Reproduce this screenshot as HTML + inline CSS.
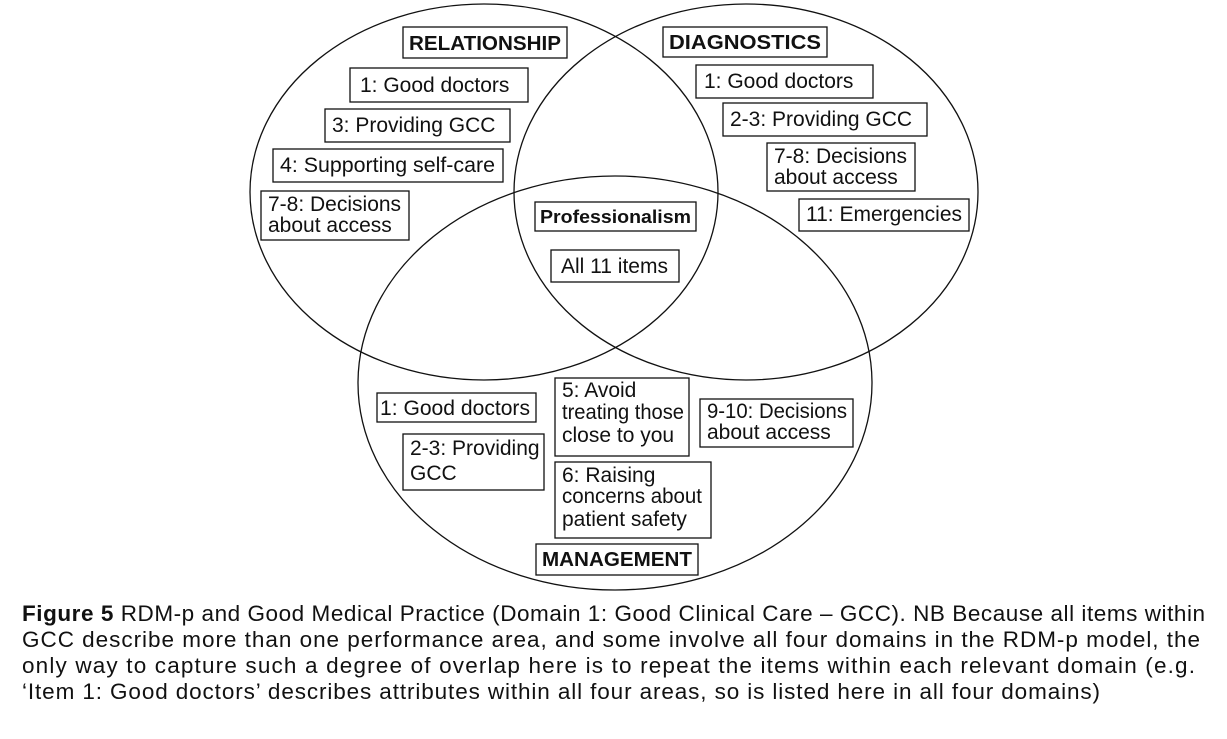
<!DOCTYPE html>
<html><head><meta charset="utf-8"><style>
html,body{margin:0;padding:0;background:#fff;}
svg{display:block;}
text{font-family:"Liberation Sans",Arial,sans-serif;fill:#111;}
.t{font-size:21px;}
.b{font-size:20px;font-weight:bold;}
.c{font-size:22.5px;}
rect{fill:#fff;stroke:#111;stroke-width:1.3;}
ellipse{fill:none;stroke:#111;stroke-width:1.3;}
</style></head><body>
<svg width="1227" height="739" viewBox="0 0 1227 739">
<ellipse cx="484" cy="192" rx="234" ry="188"/>
<ellipse cx="746" cy="192" rx="232" ry="188"/>
<ellipse cx="615" cy="383" rx="257" ry="207"/>

<rect x="403" y="27" width="164" height="31"/><text class="b" x="409" y="50" textLength="152" lengthAdjust="spacingAndGlyphs">RELATIONSHIP</text>
<rect x="663" y="27" width="164" height="30"/><text class="b" x="669" y="49" textLength="152" lengthAdjust="spacingAndGlyphs">DIAGNOSTICS</text>

<rect x="350" y="68" width="178" height="34"/><text class="t" x="360" y="92">1: Good doctors</text>
<rect x="325" y="109" width="185" height="33"/><text class="t" x="332" y="132">3: Providing GCC</text>
<rect x="273" y="149" width="230" height="33"/><text class="t" x="280" y="172" textLength="215" lengthAdjust="spacingAndGlyphs">4: Supporting self-care</text>
<rect x="261" y="191" width="148" height="49"/><text class="t" x="268" y="211">7-8: Decisions</text><text class="t" x="268" y="232">about access</text>

<rect x="696" y="65" width="177" height="33"/><text class="t" x="704" y="88">1: Good doctors</text>
<rect x="723" y="103" width="204" height="33"/><text class="t" x="730" y="126">2-3: Providing GCC</text>
<rect x="767" y="143" width="148" height="48"/><text class="t" x="774" y="163">7-8: Decisions</text><text class="t" x="774" y="184">about access</text>
<rect x="799" y="199" width="170" height="32"/><text class="t" x="806" y="221">11: Emergencies</text>

<rect x="535" y="202" width="161" height="29"/><text class="b" x="540" y="223" style="font-size:18px" textLength="151" lengthAdjust="spacingAndGlyphs">Professionalism</text>
<rect x="551" y="250" width="128" height="32"/><text class="t" x="561" y="273">All 11 items</text>

<rect x="377" y="393" width="159" height="29"/><text class="t" x="380" y="415" textLength="150" lengthAdjust="spacingAndGlyphs">1: Good doctors</text>
<rect x="403" y="434" width="141" height="56"/><text class="t" x="410" y="455">2-3: Providing</text><text class="t" x="410" y="480">GCC</text>
<rect x="555" y="378" width="134" height="78"/><text class="t" x="562" y="397">5: Avoid</text><text class="t" x="562" y="419" textLength="122" lengthAdjust="spacingAndGlyphs">treating those</text><text class="t" x="562" y="442">close to you</text>
<rect x="555" y="462" width="156" height="76"/><text class="t" x="562" y="482">6: Raising</text><text class="t" x="562" y="503" textLength="140" lengthAdjust="spacingAndGlyphs">concerns about</text><text class="t" x="562" y="526">patient safety</text>
<rect x="700" y="399" width="153" height="48"/><text class="t" x="707" y="418" textLength="140" lengthAdjust="spacingAndGlyphs">9-10: Decisions</text><text class="t" x="707" y="439">about access</text>
<rect x="536" y="544" width="162" height="31"/><text class="b" x="542" y="566" textLength="150" lengthAdjust="spacingAndGlyphs">MANAGEMENT</text>

<text class="c" x="22" y="621" textLength="1183"><tspan font-weight="bold">Figure 5</tspan>  RDM-p and Good Medical Practice (Domain 1: Good Clinical Care – GCC). NB Because all items within</text>
<text class="c" x="22" y="647" textLength="1178">GCC describe more than one performance area, and some involve all four domains in the RDM-p model, the</text>
<text class="c" x="22" y="673" textLength="1173">only way to capture such a degree of overlap here is to repeat the items within each relevant domain (e.g.</text>
<text class="c" x="22" y="699" textLength="1078">‘Item 1: Good doctors’ describes attributes within all four areas, so is listed here in all four domains)</text>
</svg>
</body></html>
